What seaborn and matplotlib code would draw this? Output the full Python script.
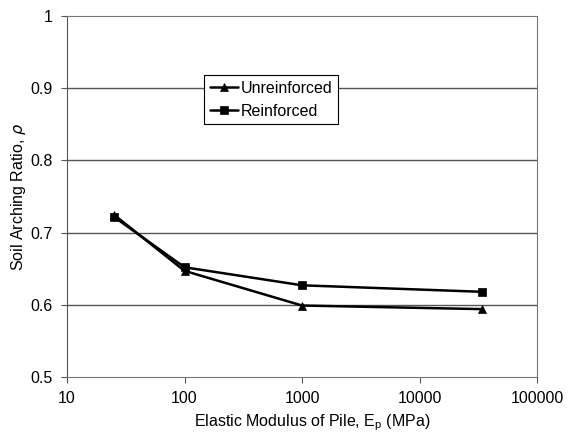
import matplotlib
matplotlib.use("Agg")
import matplotlib.pyplot as plt
import seaborn as sns
import pandas as pd
from matplotlib.ticker import FixedLocator, FixedFormatter, NullLocator

modulus = [25, 100, 1000, 34000]
unreinforced = [0.725, 0.647, 0.599, 0.594]
reinforced = [0.722, 0.652, 0.627, 0.618]
series_names = ["Unreinforced", "Reinforced"]
x_ticks = [10, 100, 1000, 10000, 100000]
x_tick_labels = ["10", "100", "1000", "10000", "100000"]
y_ticks = [0.5, 0.6, 0.7, 0.8, 0.9, 1.0]
y_tick_labels = ["0.5", "0.6", "0.7", "0.8", "0.9", "1"]

df = pd.DataFrame({
    "E": modulus * 2,
    "rho": unreinforced + reinforced,
    "series": [series_names[0]] * len(modulus) + [series_names[1]] * len(modulus),
})

sns.set_style("white")
plt.rcParams["font.family"] = ["Liberation Sans", "DejaVu Sans"]
plt.rcParams["text.color"] = "black"
plt.rcParams["axes.labelcolor"] = "black"
plt.rcParams["xtick.color"] = "black"
plt.rcParams["ytick.color"] = "black"

fig = plt.figure(figsize=(5.72, 4.36), dpi=100)
ax = fig.add_axes([67/572, 59/436, 470/572, 361/436])

for y in [0.6, 0.7, 0.8, 0.9]:
    ax.axhline(y, color="#555555", lw=1.0, zorder=0)

sns.lineplot(data=df, x="E", y="rho", hue="series", style="series",
             markers={"Unreinforced": "^", "Reinforced": "s"}, dashes=False,
             palette={"Unreinforced": "black", "Reinforced": "black"},
             markersize=6, markeredgecolor="black", markeredgewidth=0.5,
             lw=1.8, ax=ax, legend=True)

ax.set_xscale("log")
ax.set_xlim(10, 100000)
ax.set_ylim(0.5, 1.0)
ax.xaxis.set_major_locator(FixedLocator(x_ticks))
ax.xaxis.set_major_formatter(FixedFormatter(x_tick_labels))
ax.xaxis.set_minor_locator(NullLocator())
ax.yaxis.set_major_locator(FixedLocator(y_ticks))
ax.yaxis.set_major_formatter(FixedFormatter(y_tick_labels))
ax.tick_params(axis="both", which="major", direction="out", length=4, width=0.8,
               color="#555555", labelcolor="black", labelsize=11.5, pad=6,
               left=True, bottom=True)

for side in ["top", "right", "bottom"]:
    ax.spines[side].set_linestyle((0, (2, 1)))
    ax.spines[side].set_color("#777777")
    ax.spines[side].set_linewidth(0.8)
ax.spines["left"].set_color("#555555")
ax.spines["left"].set_linewidth(0.8)

ax.set_xlabel("Elastic Modulus of Pile, E$_\\mathregular{p}$ (MPa)", fontsize=11.5, color="black")
ax.xaxis.set_label_coords((312-67)/470, -(423-377)/361)
ax.xaxis.label.set_va("center")
ax.set_ylabel("Soil Arching Ratio, $\\rho$", fontsize=11.5, labelpad=2, color="black")

leg = ax.legend(loc="upper left", bbox_to_anchor=((204-67)/470, (377-75)/361),
                borderaxespad=0,
                frameon=True, fancybox=False, edgecolor="black", framealpha=1,
                fontsize=11.5, handlelength=1.8, handletextpad=0.15,
                borderpad=0.35, labelspacing=0.5)
leg.get_frame().set_linewidth(0.8)
for t in leg.get_texts():
    t.set_color("black")
for h in leg.get_lines():
    h.set_markeredgecolor("black")

fig.savefig("out.png", dpi=100)
